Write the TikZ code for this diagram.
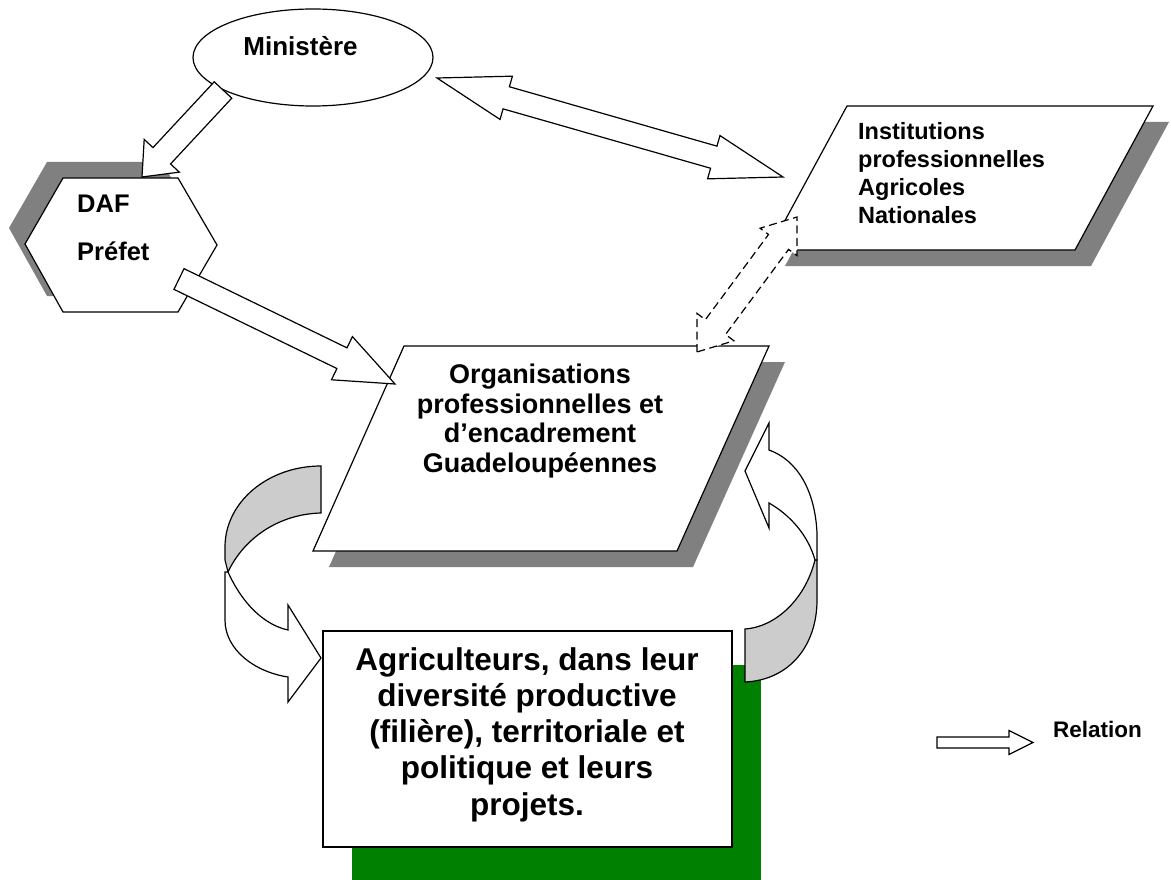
\documentclass[tikz,border=0pt]{standalone}
\usepackage{fontspec}
\setmainfont{Liberation Sans}
\usetikzlibrary{calc,shapes.geometric}

\definecolor{shadowgray}{RGB}{128,128,128}
\definecolor{bandgray}{RGB}{204,204,204}
\definecolor{farmgreen}{RGB}{0,128,0}

\newcommand\setfs[2]{\fontsize{#1}{#2}\selectfont}

\tikzset{
  shapeline/.style={draw=black, line width=1.2pt, line join=miter, fill=white},
  dropshadow/.style={fill=shadowgray, draw=none},
  txt/.style={inner sep=0pt, text=black},
  dashedline/.style={shapeline, dash pattern=on 8pt off 4.5pt},
}

% Block arrow: [options]{tail}{tip}{half shaft}{half head}{head length}
\newcommand\BlockArrow[6][]{%
  \coordinate (ba-neck) at ($(#3)!#6!(#2)$);
  \draw[shapeline,#1]
    ($(#2)!#4!90:(#3)$) -- ($(ba-neck)!#4!-90:(#2)$) -- ($(ba-neck)!#5!-90:(#2)$)
    -- (#3) -- ($(ba-neck)!#5!90:(#2)$) -- ($(ba-neck)!#4!90:(#2)$)
    -- ($(#2)!#4!-90:(#3)$) -- cycle;
}
% Double-headed block arrow: [options]{tip A}{tip B}{half shaft}{half head}{head length}
\newcommand\DoubleBlockArrow[6][]{%
  \coordinate (da-neckA) at ($(#2)!#6!(#3)$);
  \coordinate (da-neckB) at ($(#3)!#6!(#2)$);
  \draw[shapeline,#1]
    (#2) -- ($(da-neckA)!#5!90:(#3)$) -- ($(da-neckA)!#4!90:(#3)$)
    -- ($(da-neckB)!#4!-90:(#2)$) -- ($(da-neckB)!#5!-90:(#2)$)
    -- (#3) -- ($(da-neckB)!#5!90:(#2)$) -- ($(da-neckB)!#4!90:(#2)$)
    -- ($(da-neckA)!#4!-90:(#3)$) -- ($(da-neckA)!#5!-90:(#3)$) -- cycle;
}

\begin{document}
\begin{tikzpicture}[x=1pt,y=-1pt]
\useasboundingbox (0,0) rectangle (1171,880);

% ---- corner points of the drawn shapes
\coordinate (daf-1) at (63,178);  \coordinate (daf-2) at (178,178);
\coordinate (daf-3) at (217,245); \coordinate (daf-4) at (178,312);
\coordinate (daf-5) at (63,312);  \coordinate (daf-6) at (25,244);

\coordinate (inst-nw) at (847,106);  \coordinate (inst-ne) at (1153,106);
\coordinate (inst-se) at (1075,250); \coordinate (inst-sw) at (769,250);

\coordinate (org-nw) at (404,346); \coordinate (org-ne) at (769,346);
\coordinate (org-se) at (677,551); \coordinate (org-sw) at (313,551);

% ---- shadows
\fill[dropshadow] ([shift={(-16,-16)}]daf-1) -- ([shift={(-16,-16)}]daf-2)
  -- ([shift={(-16,-16)}]daf-3) -- ([shift={(-16,-16)}]daf-4)
  -- ([shift={(-16,-16)}]daf-5) -- ([shift={(-16,-16)}]daf-6) -- cycle;
\fill[dropshadow] ([shift={(16,16)}]inst-nw) -- ([shift={(16,16)}]inst-ne)
  -- ([shift={(16,16)}]inst-se) -- ([shift={(16,16)}]inst-sw) -- cycle;
\fill[dropshadow] ([shift={(16,16)}]org-nw) -- ([shift={(16,16)}]org-ne)
  -- ([shift={(16,16)}]org-se) -- ([shift={(16,16)}]org-sw) -- cycle;
\fill[farmgreen] (352,665) rectangle (761,880);

% ---- main shapes
\node[ellipse, shapeline, minimum width=240pt, minimum height=97pt, inner sep=0pt]
  (ministere) at (313,57.5) {};
\path[shapeline] (daf-1) -- (daf-2) -- (daf-3) -- (daf-4) -- (daf-5) -- (daf-6) -- cycle;
\path[shapeline] (inst-nw) -- (inst-ne) -- (inst-se) -- (inst-sw) -- cycle;
\path[shapeline] (org-nw) -- (org-ne) -- (org-se) -- (org-sw) -- cycle;
\node[shapeline, minimum width=409pt, minimum height=216pt, inner sep=0pt]
  (farmers) at (527.5,739) {};

% ---- texts (multi-line nodes are anchored on the baseline of their last line)
\node[txt, anchor=base, font=\bfseries\setfs{26}{30}] (ministere-txt) at (300.5,56) {Ministère};
\node[txt, anchor=base west, font=\bfseries\setfs{25.5}{30}] (daf-txt) at (77,213) {DAF};
\node[txt, anchor=base west, font=\bfseries\setfs{25.5}{30}] (prefet-txt) at (77,260) {Préfet};
\node[txt, anchor=base west, align=left, font=\bfseries\setfs{23.5}{28}] (inst-txt) at (858,223)
  {Institutions\\ professionnelles\\ Agricoles\\ Nationales};
\node[txt, anchor=base, align=center, font=\bfseries\setfs{27}{29.5}] (org-txt) at (540,472)
  {Organisations\\ professionnelles et\\ d’encadrement\\ Guadeloupéennes};
\node[txt, anchor=base, align=center, font=\bfseries\setfs{31.5}{36.25}] (farmers-txt) at (527,815)
  {Agriculteurs, dans leur\\ diversité productive\\ (filière), territoriale et\\ politique et leurs\\ projets.};
\node[txt, anchor=base west, font=\bfseries\setfs{22.5}{27}] (relation-txt) at (1053,737) {Relation};

% ---- connector end points
\coordinate (min-out)  at (223,90);
\coordinate (daf-in)   at (142,177);
\coordinate (daf-out)  at (179,279);
\coordinate (org-in)   at (395,384);
\coordinate (min-side) at (437,78);
\coordinate (inst-side) at (783,177);
\coordinate (org-top)  at (697,352);
\coordinate (inst-bot) at (797,217);
\coordinate (key-tail) at (937,742.5);
\coordinate (key-tip)  at (1033,742.5);

% ---- block arrows
\BlockArrow{min-out}{daf-in}{12pt}{24pt}{29pt}
\BlockArrow{daf-out}{org-in}{11.5pt}{24pt}{59pt}
\DoubleBlockArrow{min-side}{inst-side}{11.5pt}{22.5pt}{72pt}
\DoubleBlockArrow[dashedline]{org-top}{inst-bot}{12.5pt}{23pt}{31pt}
\BlockArrow{key-tail}{key-tip}{5.5pt}{12pt}{24pt}

% ---- curved arrow on the left (Organisations -> Agriculteurs)
\path[shapeline, fill=bandgray] (321,466) -- (321,513)
  .. controls (279,514) and (244,538) .. (228,572) -- (225,560) -- (225,547)
  .. controls (225,502) and (268,466) .. (321,466) -- cycle;
\path[shapeline] (228,572) .. controls (243,605) and (265,625) .. (288,630)
  -- (288,605) -- (321,658) -- (288,702) -- (288,677)
  .. controls (255,672) and (225,650) .. (225,620) -- (225,572) -- cycle;

% ---- curved arrow on the right (Agriculteurs -> Organisations)
\path[shapeline, fill=bandgray] (815,560)
  .. controls (805,600) and (775,627) .. (745,629) -- (745,682)
  .. controls (790,680) and (817,645) .. (817,600) -- (817,560) -- cycle;
\path[shapeline] (769,450) -- (769,423) -- (745,471) -- (769,528) -- (769,503)
  .. controls (790,515) and (808,535) .. (815,560) -- (817,560) -- (817,533)
  .. controls (815,490) and (797,460) .. (769,450) -- cycle;

\end{tikzpicture}
\end{document}
